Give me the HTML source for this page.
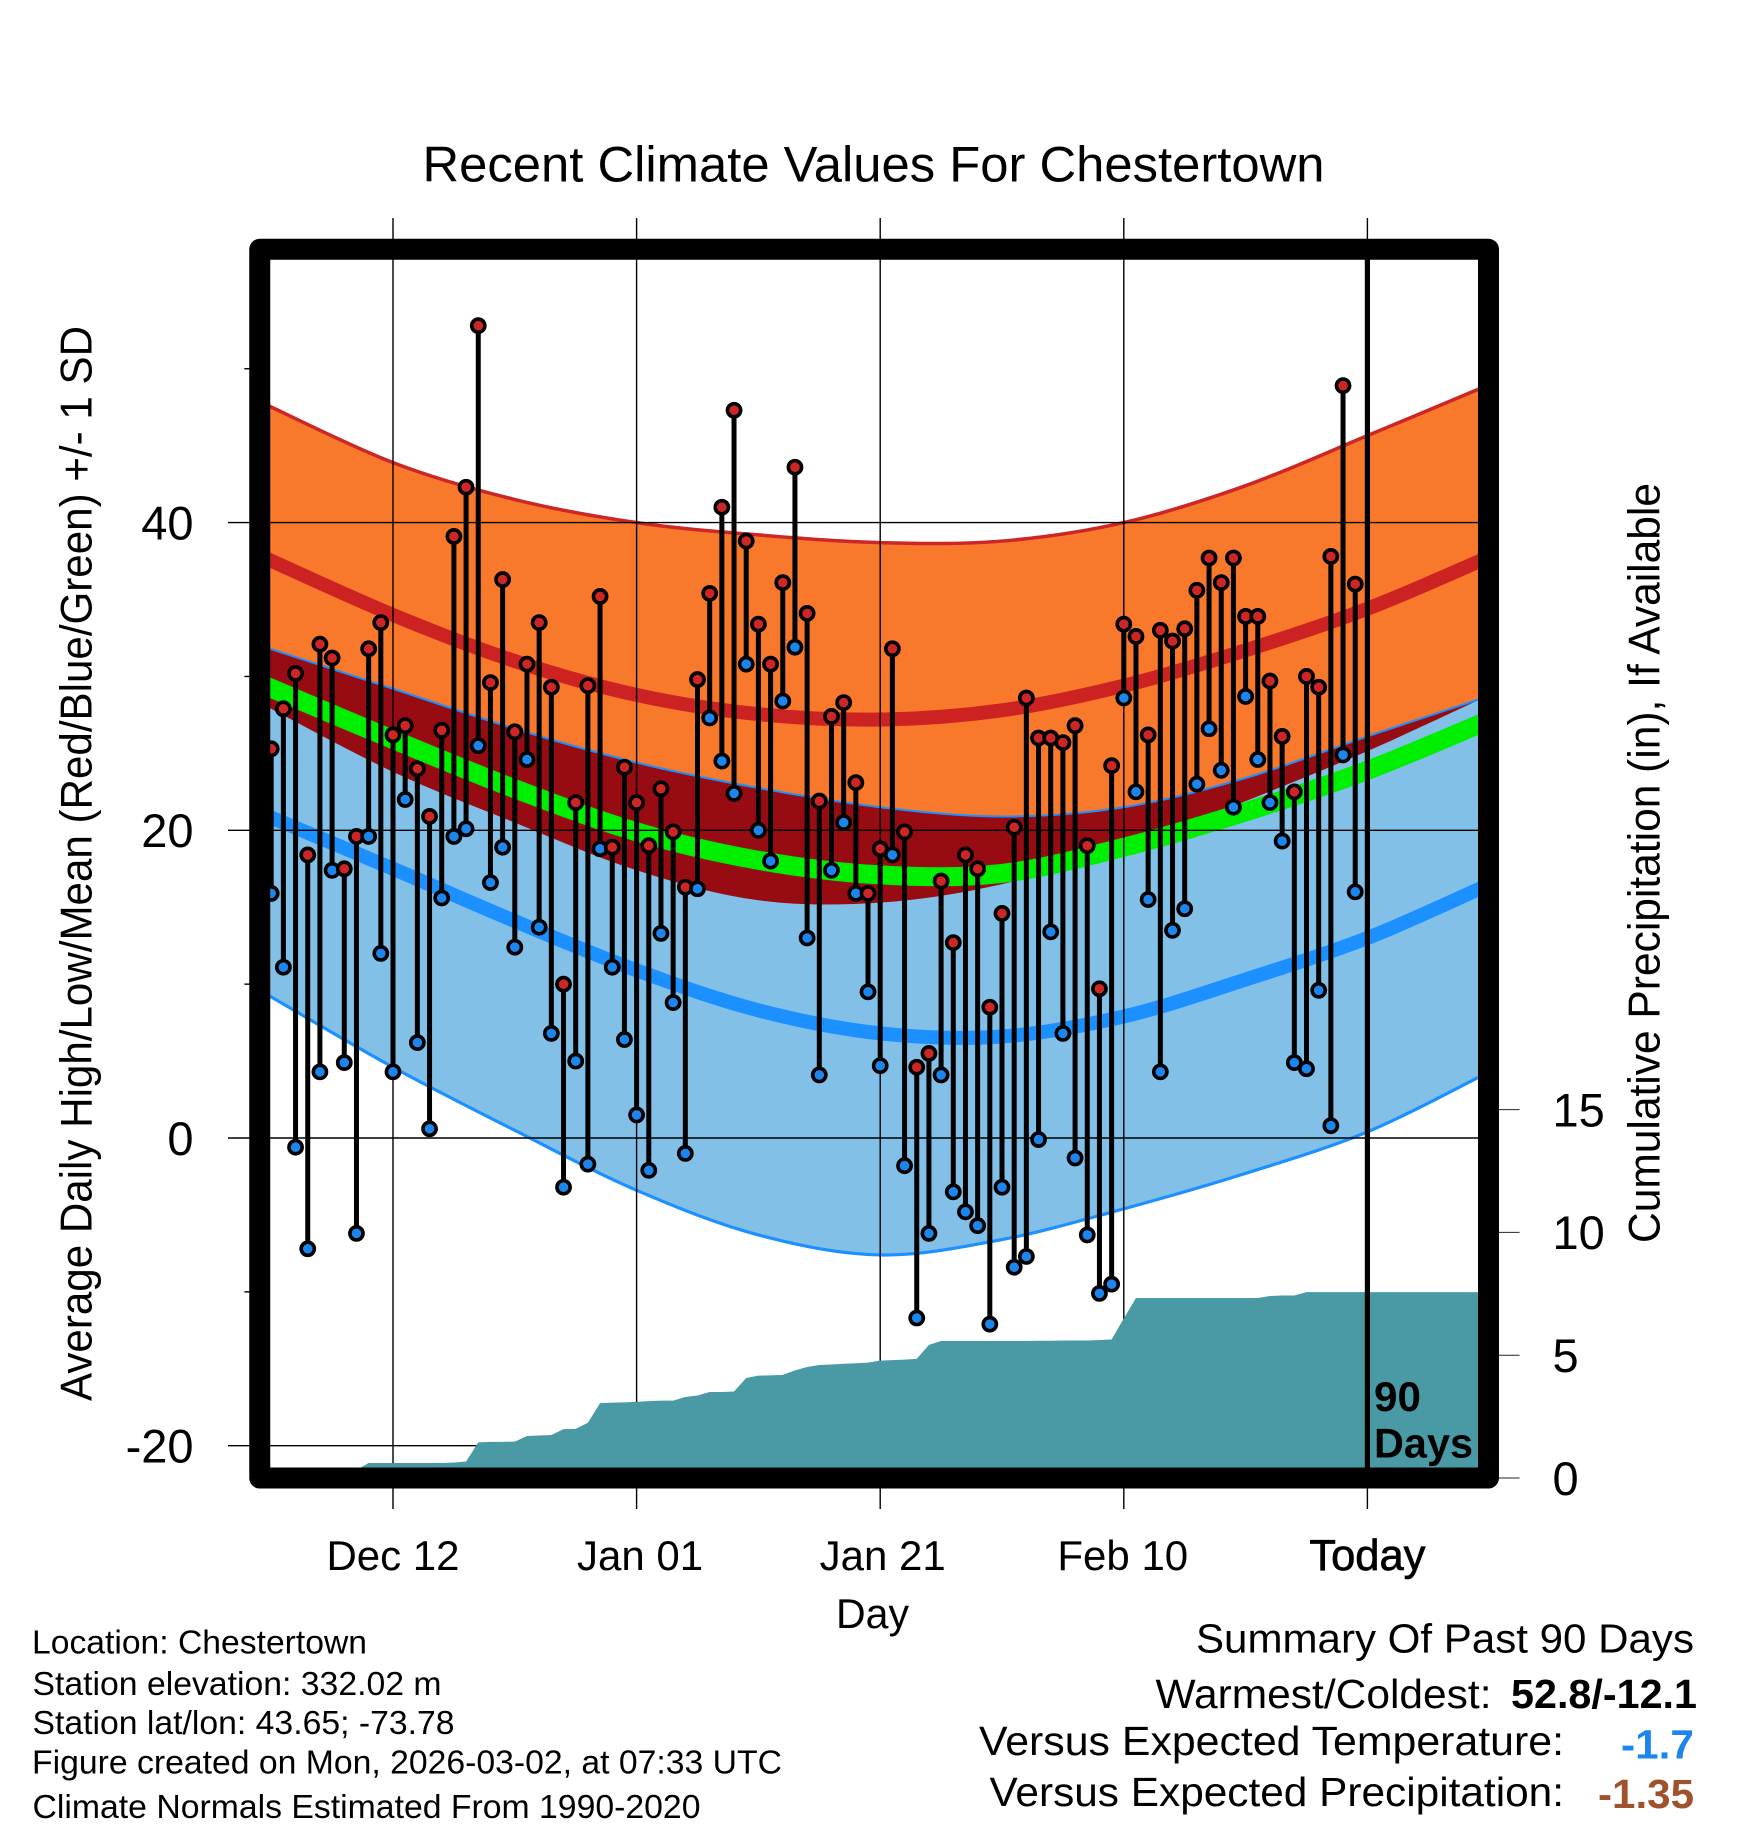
<!DOCTYPE html>
<html>
<head>
<meta charset="utf-8">
<title>Recent Climate Values For Chestertown</title>
<style>
html,body{margin:0;padding:0;background:#fff;}
svg{display:block;}
text{font-family:"Liberation Sans",sans-serif;fill:#000;}
</style>
</head>
<body>
<svg id="chart" xmlns="http://www.w3.org/2000/svg" width="1748" height="1828" viewBox="0 0 1748 1828">
  <rect x="0" y="0" width="1748" height="1828" fill="#fff"/>
  <g id="bands"></g>
  <g id="grid"></g>
  <g id="precip"></g>
  <g id="points"></g>
  <g id="today"></g>
  <rect x="259.75" y="249.3" width="1228.75" height="1228.7" fill="none" stroke="#000" stroke-width="21" stroke-linejoin="round"/>
  <g id="axes"></g>

  <text x="422.5" y="181.7" font-size="50" textLength="902" lengthAdjust="spacingAndGlyphs">Recent Climate Values For Chestertown</text>
  <text transform="translate(91.5,1401) rotate(-90)" font-size="44.5" textLength="1075" lengthAdjust="spacingAndGlyphs">Average Daily High/Low/Mean (Red/Blue/Green) +/- 1 SD</text>
  <text transform="translate(1659.5,1243) rotate(-90)" font-size="44.5" textLength="760" lengthAdjust="spacingAndGlyphs">Cumulative Precipitation (in), If Available</text>
  <text x="836" y="1628" font-size="42" textLength="73" lengthAdjust="spacingAndGlyphs">Day</text>
  <text x="1374" y="1411" font-size="42" font-weight="bold" textLength="47" lengthAdjust="spacingAndGlyphs">90</text>
  <text x="1374" y="1457.5" font-size="42" font-weight="bold" textLength="99" lengthAdjust="spacingAndGlyphs">Days</text>

  <text x="32" y="1653.6" font-size="33.5" textLength="335" lengthAdjust="spacingAndGlyphs">Location: Chestertown</text>
  <text x="32.5" y="1695" font-size="33.5" textLength="409" lengthAdjust="spacingAndGlyphs">Station elevation: 332.02 m</text>
  <text x="32.5" y="1734" font-size="33.5" textLength="422" lengthAdjust="spacingAndGlyphs">Station lat/lon: 43.65; -73.78</text>
  <text x="32" y="1773.6" font-size="33.5" textLength="750" lengthAdjust="spacingAndGlyphs">Figure created on Mon, 2026-03-02, at 07:33 UTC</text>
  <text x="32.5" y="1818" font-size="33.5" textLength="668" lengthAdjust="spacingAndGlyphs">Climate Normals Estimated From 1990-2020</text>

  <text x="1196" y="1652.5" font-size="41" textLength="498" lengthAdjust="spacingAndGlyphs">Summary Of Past 90 Days</text>
  <text x="1155.5" y="1708" font-size="41" textLength="336" lengthAdjust="spacingAndGlyphs">Warmest/Coldest:</text>
  <text x="1511" y="1708" font-size="41" font-weight="bold" textLength="186" lengthAdjust="spacingAndGlyphs">52.8/-12.1</text>
  <text x="979" y="1755" font-size="41" textLength="585" lengthAdjust="spacingAndGlyphs">Versus Expected Temperature:</text>
  <text x="1621" y="1758.6" font-size="41" font-weight="bold" textLength="73" lengthAdjust="spacingAndGlyphs" style="fill:#1c86ee">-1.7</text>
  <text x="989.5" y="1806" font-size="41" textLength="574.5" lengthAdjust="spacingAndGlyphs">Versus Expected Precipitation:</text>
  <text x="1598" y="1808" font-size="41" font-weight="bold" textLength="96" lengthAdjust="spacingAndGlyphs" style="fill:#a0522d">-1.35</text>
</svg>
<script>
// Daily observed values, Dec 2 (index 0) through yesterday
const highs = [25.3,27.9,30.2,18.4,32.1,31.2,17.5,19.6,31.8,33.5,26.2,26.8,24.0,20.9,26.5,39.1,42.3,52.8,29.6,36.3,26.4,30.8,33.5,29.3,10.0,21.8,29.4,35.2,18.9,24.1,21.8,19.0,22.7,19.9,16.3,29.8,35.4,41.0,47.3,38.8,33.4,30.8,36.1,43.6,34.1,21.9,27.4,28.3,23.1,15.9,18.8,31.8,19.9,4.6,5.5,16.7,12.7,18.4,17.5,8.5,14.6,20.2,28.6,26.0,26.0,25.7,26.8,19.0,9.7,24.2,33.4,32.6,26.2,33.0,32.3,33.1,35.6,37.7,36.1,37.7,33.9,33.9,29.7,26.1,22.5,30.0,29.3,37.8,48.9,36.0];
const lows = [15.9,11.1,-0.6,-7.2,4.3,17.4,4.9,-6.2,19.6,12.0,4.3,22.0,6.2,0.6,15.6,19.6,20.1,25.5,16.6,18.9,12.4,24.6,13.7,6.8,-3.2,5.0,-1.7,18.8,11.1,6.4,1.5,-2.1,13.3,8.8,-1.0,16.2,27.3,24.5,22.4,30.8,20.0,18.0,28.4,31.9,13.0,4.1,17.4,20.5,15.9,9.5,4.7,18.4,-1.8,-11.7,-6.2,4.1,-3.5,-4.8,-5.7,-12.1,-3.2,-8.4,-7.7,-0.1,13.4,6.8,-1.3,-6.3,-10.1,-9.5,28.6,22.5,15.5,4.3,13.5,14.9,23.0,26.6,23.9,21.5,28.7,24.6,21.8,19.3,4.9,4.5,9.6,0.8,24.9,16.0];
const precip = [0,0,0,0,0,0,0,0.33,0.61,0.61,0.61,0.61,0.61,0.61,0.61,0.63,0.67,1.45,1.47,1.47,1.48,1.71,1.73,1.75,1.99,2.0,2.25,3.05,3.07,3.08,3.1,3.13,3.15,3.15,3.3,3.36,3.5,3.5,3.52,4.07,4.17,4.18,4.2,4.38,4.52,4.6,4.62,4.65,4.67,4.7,4.78,4.8,4.82,4.85,5.42,5.58,5.58,5.58,5.58,5.58,5.58,5.58,5.58,5.59,5.59,5.6,5.6,5.6,5.62,5.64,6.5,7.33,7.33,7.33,7.33,7.33,7.33,7.33,7.33,7.33,7.33,7.33,7.41,7.43,7.43,7.57,7.57,7.57,7.57,7.57];

// Climate normals, sampled on normalDays (days after Dec 12)
const normalDays = [-10.5,0,10,20,30,40,50,60,70,80,89.5];
const highPlusSd = [47.7,43.9,41.5,40.0,39.2,38.7,38.8,40.0,42.4,45.65,48.8];
const highMean = [37.7,34.0,31.0,28.8,27.55,27.2,27.8,29.4,31.7,34.4,37.6];
const highMinusSd = [28.1,23.8,20.5,17.4,15.45,15.3,16.5,18.9,21.9,25.15,28.6];
const meanTemp = [29.4,25.9,22.7,19.9,18.05,17.1,17.2,18.9,21.2,23.9,27.0];
const lowPlusSd = [31.9,29.2,26.6,24.4,22.75,21.5,20.9,21.5,23.4,26.1,28.6];
const lowMean = [21.0,17.5,14.1,10.9,8.3,6.8,6.6,7.9,10.3,13.0,16.3];
const lowMinusSd = [9.4,4.6,0.5,-3.4,-6.3,-7.6,-6.6,-4.6,-2.3,0.4,4.1];

// Axis labels
const dateTickDays = [0,20,40,60,80];
const dateTickLabels = ['Dec 12','Jan 01','Jan 21','Feb 10','Today'];
const tempMajorTicks = [40,20,0,-20];
const tempMinorTicks = [50,30,10,-10];
const precipTicks = [0,5,10,15];

const SVG_NS = 'http://www.w3.org/2000/svg';
const firstDay = -10;
const xScale = d => 393 + 12.18 * d;
const yTemp = t => 1138 - 15.385 * t;
const yPrecip = p => 1478 - 24.56 * p;

function make(tag, parent, attrs) {
  const el = document.createElementNS(SVG_NS, tag);
  for (const k in attrs) el.setAttribute(k, attrs[k]);
  parent.appendChild(el);
  return el;
}
function points(vals) {
  return vals.map((v, i) => [xScale(normalDays[i]), yTemp(v)]);
}
function curve(p) {
  let s = '';
  for (let i = 0; i < p.length - 1; i++) {
    const p0 = p[Math.max(i - 1, 0)], p1 = p[i], p2 = p[i + 1], p3 = p[Math.min(i + 2, p.length - 1)];
    const c1 = [p1[0] + (p2[0] - p0[0]) / 6, p1[1] + (p2[1] - p0[1]) / 6];
    const c2 = [p2[0] - (p3[0] - p1[0]) / 6, p2[1] - (p3[1] - p1[1]) / 6];
    s += 'C' + c1[0].toFixed(2) + ' ' + c1[1].toFixed(2) + ' ' + c2[0].toFixed(2) + ' ' + c2[1].toFixed(2) + ' ' + p2[0].toFixed(2) + ' ' + p2[1].toFixed(2);
  }
  return s;
}
function line(vals) {
  const p = points(vals);
  return 'M' + p[0][0] + ' ' + p[0][1] + curve(p);
}
function area(top, bottom) {
  const a = points(top), b = points(bottom).reverse();
  return 'M' + a[0][0] + ' ' + a[0][1] + curve(a) + 'L' + b[0][0] + ' ' + b[0][1] + curve(b) + 'Z';
}

const bands = document.getElementById('bands');
const orangeBand = make('path', bands, {d: area(highPlusSd, highMinusSd), fill: '#f8782c'});


const blueBand = make('path', bands, {d: area(lowPlusSd, lowMinusSd), fill: '#82c0e8'});


const overlapBand = make('path', bands, {d: area(lowPlusSd, highMinusSd), fill: '#960c12'});


const highMeanLine = make('path', bands, {d: line(highMean), fill: 'none', stroke: '#cd2222', 'stroke-width': 14});


const lowMeanLine = make('path', bands, {d: line(lowMean), fill: 'none', stroke: '#1c90ff', 'stroke-width': 14});


const meanLine = make('path', bands, {d: line(meanTemp), fill: 'none', stroke: '#00ee00', 'stroke-width': 19});


const upperLine = make('path', bands, {d: line(highPlusSd), fill: 'none', stroke: '#cd2626', 'stroke-width': 3.5});


const lowUpperLine = make('path', bands, {d: line(lowPlusSd), fill: 'none', stroke: '#1c90ff', 'stroke-width': 2});


const lowLowerLine = make('path', bands, {d: line(lowMinusSd), fill: 'none', stroke: '#1c90ff', 'stroke-width': 3.2});



const grid = document.getElementById('grid');
dateTickDays.forEach((d, i) => {
  const x = xScale(d);
  const v = make('line', grid, {x1: x, x2: x, y1: 218, y2: 1509, stroke: '#000', 'stroke-width': 1.4});
  
  
});
tempMajorTicks.forEach(t => {
  const y = yTemp(t);
  const h = make('line', grid, {x1: 228, x2: 1478, y1: y, y2: y, stroke: '#000', 'stroke-width': 1.4});
  
  
});

const precipGroup = document.getElementById('precip');
(function () {
  let d = 'M' + xScale(firstDay) + ' ' + yPrecip(0);
  precip.forEach((p, i) => { d += 'L' + xScale(firstDay + i).toFixed(2) + ' ' + yPrecip(p).toFixed(2); });
  d += 'L' + xScale(89.5) + ' ' + yPrecip(precip[precip.length - 1]) + 'L' + xScale(89.5) + ' ' + yPrecip(0) + 'Z';
  const a = make('path', precipGroup, {d: d, fill: '#4a9aa5'});
  
  
})();

const pts = document.getElementById('points');
highs.forEach((hi, i) => {
  const x = xScale(firstDay + i);
  const stem = make('line', pts, {x1: x, x2: x, y1: yTemp(hi), y2: yTemp(lows[i]), stroke: '#000', 'stroke-width': 5});
  
  
  const hiDot = make('circle', pts, {cx: x, cy: yTemp(hi), r: 6.6, fill: '#cd2626', stroke: '#000', 'stroke-width': 3.6});
  
  
  const loDot = make('circle', pts, {cx: x, cy: yTemp(lows[i]), r: 6.6, fill: '#1c86ee', stroke: '#000', 'stroke-width': 3.6});
  
  
});

const todayGroup = document.getElementById('today');
const todayLine = make('line', todayGroup, {x1: xScale(80), x2: xScale(80), y1: 250, y2: 1478, stroke: '#000', 'stroke-width': 5.2});



const axes = document.getElementById('axes');
tempMinorTicks.forEach(t => {
  const y = yTemp(t);
  const m = make('line', axes, {x1: 244.4, x2: 250, y1: y, y2: y, stroke: '#000', 'stroke-width': 1.4});
  
  
});
tempMajorTicks.forEach(t => {
  const label = make('text', axes, {x: 193.5, y: yTemp(t) + 16.8, 'font-size': 47, 'text-anchor': 'end'});
  label.textContent = String(t);
  
  
});
precipTicks.forEach(p => {
  const y = yPrecip(p);
  const tick = make('line', axes, {x1: 1499, x2: 1519.5, y1: y, y2: y, stroke: '#222', 'stroke-width': 1});
  
  
  const label = make('text', axes, {x: 1552.5, y: y + 16.8, 'font-size': 47});
  label.textContent = String(p);
  
  
});
dateTickLabels.forEach((name, i) => {
  const nudge = name === 'Jan 01' ? 3.5 : name === 'Jan 21' ? 2.5 : name === 'Feb 10' ? -1 : 0;
  const label = make('text', axes, {x: xScale(dateTickDays[i]) + nudge, y: 1570, 'font-size': name === 'Today' ? 43.5 : 42, 'text-anchor': 'middle'});
  label.textContent = name;
  if (name === 'Today') label.setAttribute('style', 'stroke:#000;stroke-width:0.7');
  
  
});
</script>
</body>
</html>
